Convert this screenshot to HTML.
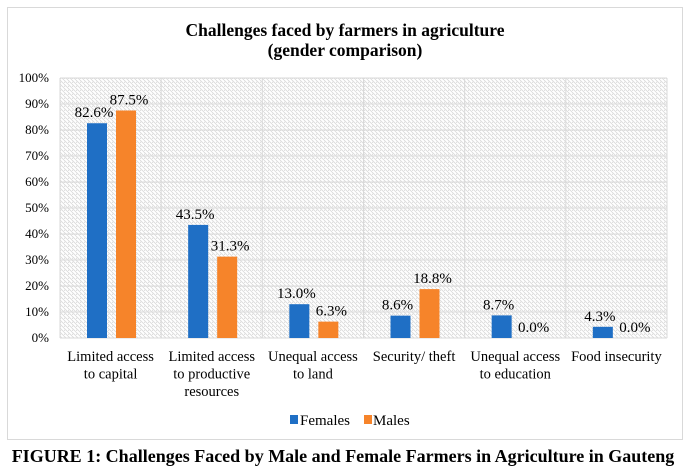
<!DOCTYPE html>
<html><head><meta charset="utf-8"><style>
body{margin:0;background:#fff;width:689px;height:467px;overflow:hidden;font-family:"Liberation Serif",serif}
</style></head><body>
<svg width="689" height="467" xmlns="http://www.w3.org/2000/svg" font-family="Liberation Serif, serif">
<defs>
<pattern id="hatch" width="4" height="4" patternUnits="userSpaceOnUse">
<rect width="4" height="4" fill="#fff"/>
<path d="M-1,1 l2,2 M0,0 l4,4 M3,-1 l2,2" stroke="#d9d9d9" stroke-width="0.8"/>
</pattern>
</defs>
<rect x="7.5" y="7.5" width="675" height="432" fill="#fff" stroke="#d9d9d9"/>
<text x="345" y="36" text-anchor="middle" font-weight="bold" font-size="17.5">Challenges faced by farmers in agriculture</text>
<text x="345" y="56" text-anchor="middle" font-weight="bold" font-size="17.5">(gender comparison)</text>
<rect x="60" y="78" width="607" height="260" fill="url(#hatch)"/>
<g id="grid"></g><g id="bars"></g><g id="labels"></g>
<g>
<rect x="290" y="415" width="8" height="9" fill="#1f6fc5"/>
<text x="300" y="425" font-size="15">Females</text>
<rect x="364" y="415" width="8" height="9" fill="#f6842a"/>
<text x="373" y="425" font-size="15">Males</text>
</g>
<text x="343" y="462" text-anchor="middle" font-weight="bold" font-size="18">FIGURE 1: Challenges Faced by Male and Female Farmers in Agriculture in Gauteng</text>
</svg>
<script>
const categories=[["Limited access","to capital"],["Limited access","to productive","resources"],["Unequal access","to land"],["Security/ theft"],["Unequal access","to education"],["Food insecurity"]];
const females=[82.6,43.5,13.0,8.6,8.7,4.3];
const males=[87.5,31.3,6.3,18.8,0.0,0.0];
const ticks=[0,10,20,30,40,50,60,70,80,90,100];
const NS="http://www.w3.org/2000/svg";
const L=60,R=667,T=78,B=338,cw=(R-L)/categories.length;
const y=v=>B-(v/100)*(B-T);
function mk(tag,attrs,parent,txt){const e=document.createElementNS(NS,tag);for(const k in attrs)e.setAttribute(k,attrs[k]);if(txt!==undefined)e.textContent=txt;document.getElementById(parent).appendChild(e);return e;}
ticks.forEach(t=>{
 const l=mk('line',{x1:L,x2:R,y1:y(t),y2:y(t),stroke:'#d9d9d9'},'grid');
 
 
 const tx=mk('text',{x:49,y:y(t)+4,'text-anchor':'end','font-size':'13'},'labels',t+'%');
 
 
});
for(let i=0;i<=categories.length;i++){
 const l=mk('line',{x1:L+i*cw,x2:L+i*cw,y1:T,y2:B,stroke:'#d9d9d9'},'grid');
 
 
}
categories.forEach((c,i)=>{
 const x0=L+i*cw;
 const fx=x0+27,mx=x0+56,w=20;
 const fb=mk('rect',{x:fx,y:y(females[i]),width:w,height:B-y(females[i]),fill:'#1f6fc5'},'bars');
 
 
 const mb=mk('rect',{x:mx,y:y(males[i]),width:w,height:B-y(males[i]),fill:'#f6842a'},'bars');
 
 
 const fl=mk('text',{x:fx+w/2-3,y:y(females[i])-6,'text-anchor':'middle','font-size':'15'},'labels',females[i].toFixed(1)+'%');
 
 
 const ml=mk('text',{x:mx+w/2+3,y:y(males[i])-6,'text-anchor':'middle','font-size':'15'},'labels',males[i].toFixed(1)+'%');
 
 
 c.forEach((line,j)=>{
  const t=mk('text',{x:x0+cw/2,y:361+j*17.5,'text-anchor':'middle','font-size':'14.5'},'labels',line);
  
  
 });
});
</script>
</body></html>
